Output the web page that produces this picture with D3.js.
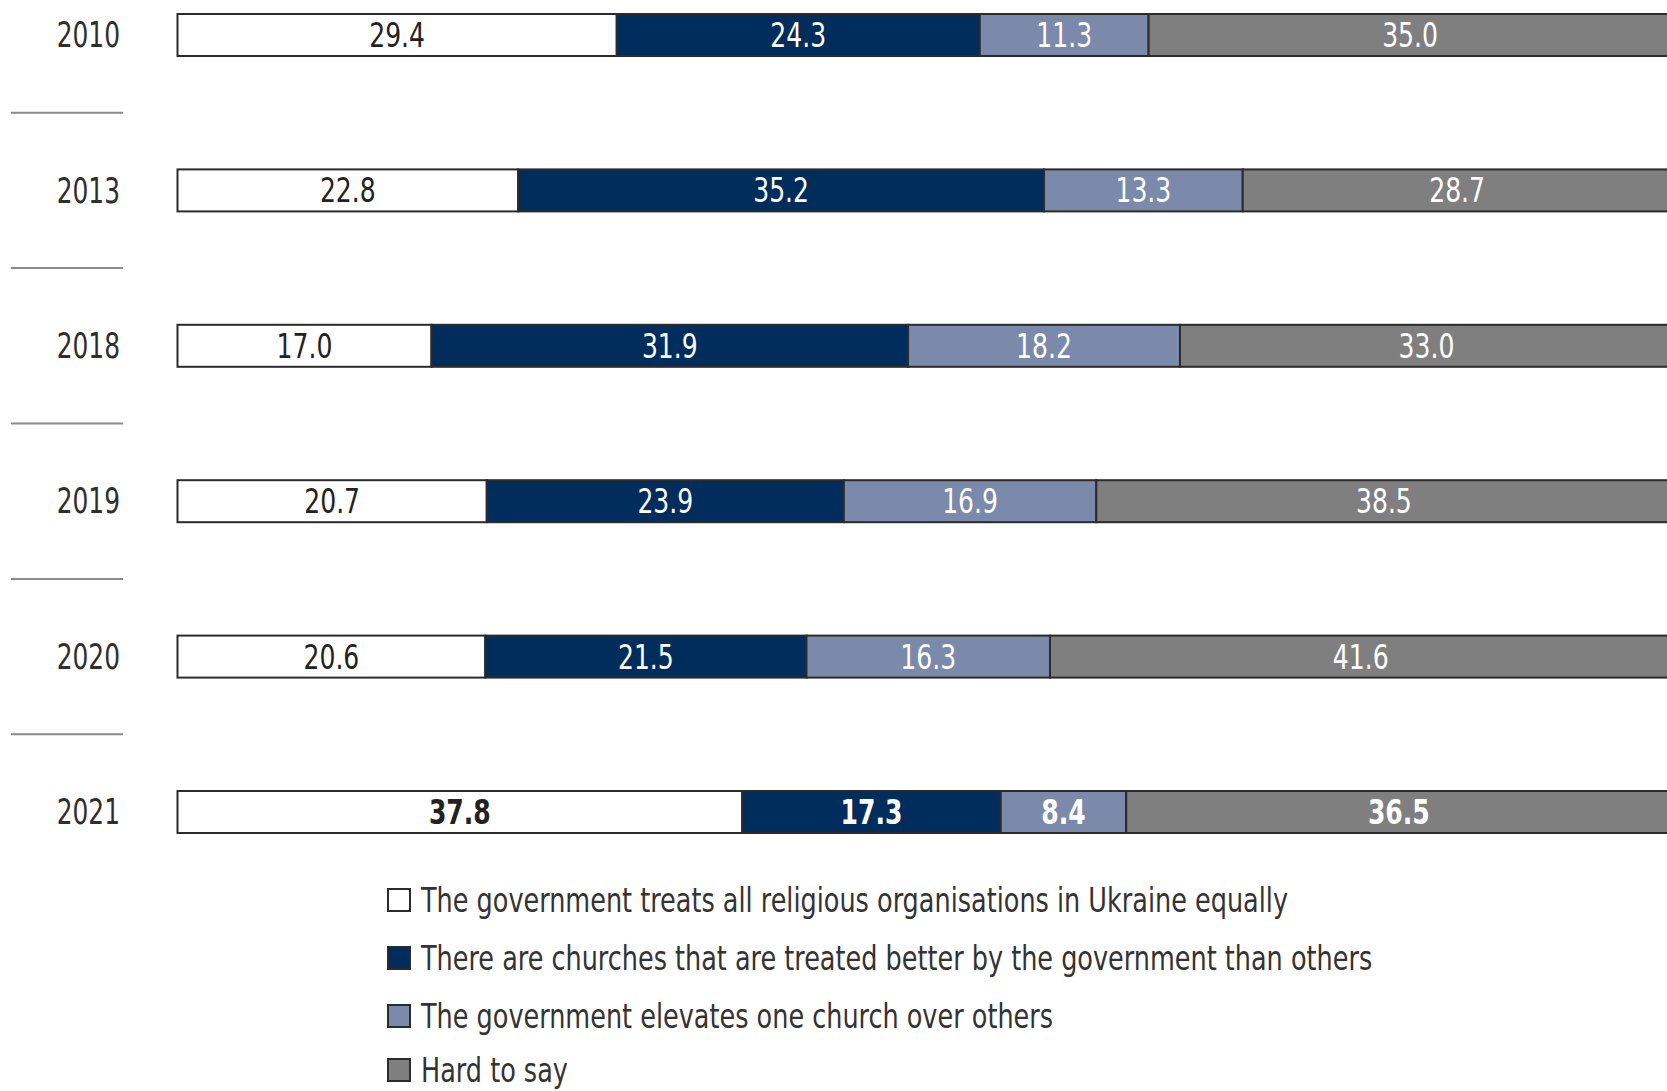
<!DOCTYPE html>
<html>
<head>
<meta charset="utf-8">
<script src="https://cdn.jsdelivr.net/npm/d3@7"></script>
<style>
  html, body { margin: 0; padding: 0; background: #fff; }
  svg { display: block; }
  text { font-family: "DejaVu Sans Condensed", "DejaVu Sans", sans-serif; font-stretch: condensed; }
</style>
</head>
<body>
<svg id="chart" width="1667" height="1091"></svg>
<script>
const years = ["2010", "2013", "2018", "2019", "2020", "2021"];
const seriesNames = [
  "The government treats all religious organisations in Ukraine equally",
  "There are churches that are treated better by the government than others",
  "The government elevates one church over others",
  "Hard to say"
];
const equally = [29.4, 22.8, 17.0, 20.7, 20.6, 37.8];
const betterTreated = [24.3, 35.2, 31.9, 23.9, 21.5, 17.3];
const elevatesOne = [11.3, 13.3, 18.2, 16.9, 16.3, 8.4];
const hardToSay = [35.0, 28.7, 33.0, 38.5, 41.6, 36.5];
const colors = ["#ffffff", "#012d5c", "#7b8aaa", "#7f7f7f"];
const labelColors = ["#222222", "#ffffff", "#ffffff", "#ffffff"];
const boldYears = ["2021"];

const svg = d3.select("#chart");
const seriesValues = [equally, betterTreated, elevatesOne, hardToSay];

const x = d3.scaleLinear().domain([0, 100]).range([177.5, 1671.5]);
const y = d3.scalePoint().domain(years).range([35, 812]);
const barH = 42;
const squeeze = 0.82;

const rows = years.map((yr, i) => {
  let acc = 0;
  const segs = seriesValues.map((vals, s) => {
    const seg = { year: yr, s, v: vals[i], x0: acc, x1: acc + vals[i] };
    acc += vals[i];
    return seg;
  });
  return { year: yr, segs };
});

// separators between rows
const step = y.step();
svg.append("g").selectAll("line")
  .data(years.slice(0, -1))
  .join("line")
  .attr("x1", 11).attr("x2", 123)
  .attr("y1", d => y(d) + step / 2).attr("y2", d => y(d) + step / 2)
  .attr("stroke", "#8a8a8a").attr("stroke-width", 2);

// year labels
svg.append("g").selectAll("text")
  .data(years)
  .join("text")
  .attr("transform", d => `translate(120,${y(d)}) scale(0.79,1)`)
  .attr("text-anchor", "end").attr("dominant-baseline", "central")
  .attr("font-size", 35).attr("fill", "#2e2e2e")
  .text(d => d);

const rowG = svg.append("g").selectAll("g")
  .data(rows).join("g");

rowG.selectAll("rect")
  .data(d => d.segs)
  .join("rect")
  .attr("x", d => x(d.x0))
  .attr("y", d => y(d.year) - barH / 2)
  .attr("width", d => x(d.x1) - x(d.x0))
  .attr("height", barH)
  .attr("fill", d => colors[d.s])
  .attr("stroke", "#2b2b2b").attr("stroke-width", 2);

rowG.selectAll("text")
  .data(d => d.segs)
  .join("text")
  .attr("transform", d => `translate(${(x(d.x0) + x(d.x1)) / 2},${y(d.year)}) scale(${squeeze},1)`)
  .attr("text-anchor", "middle").attr("dominant-baseline", "central")
  .attr("font-size", 34)
  .attr("font-weight", d => boldYears.includes(d.year) ? "bold" : "normal")
  .attr("fill", d => labelColors[d.s])
  .text(d => d.v.toFixed(1));

// legend
const legY = [900, 958, 1016, 1070];
const leg = svg.append("g").selectAll("g")
  .data(seriesNames).join("g")
  .attr("transform", (d, i) => `translate(388,${legY[i]})`);
leg.append("rect")
  .attr("x", 0).attr("y", -11).attr("width", 22).attr("height", 22)
  .attr("fill", (d, i) => colors[i]).attr("stroke", "#2b2b2b").attr("stroke-width", 2);
leg.append("text")
  .attr("transform", `translate(33,0) scale(0.86,1)`)
  .attr("dominant-baseline", "central")
  .attr("font-size", 33).attr("fill", "#333")
  .text(d => d);
</script>
</body>
</html>
